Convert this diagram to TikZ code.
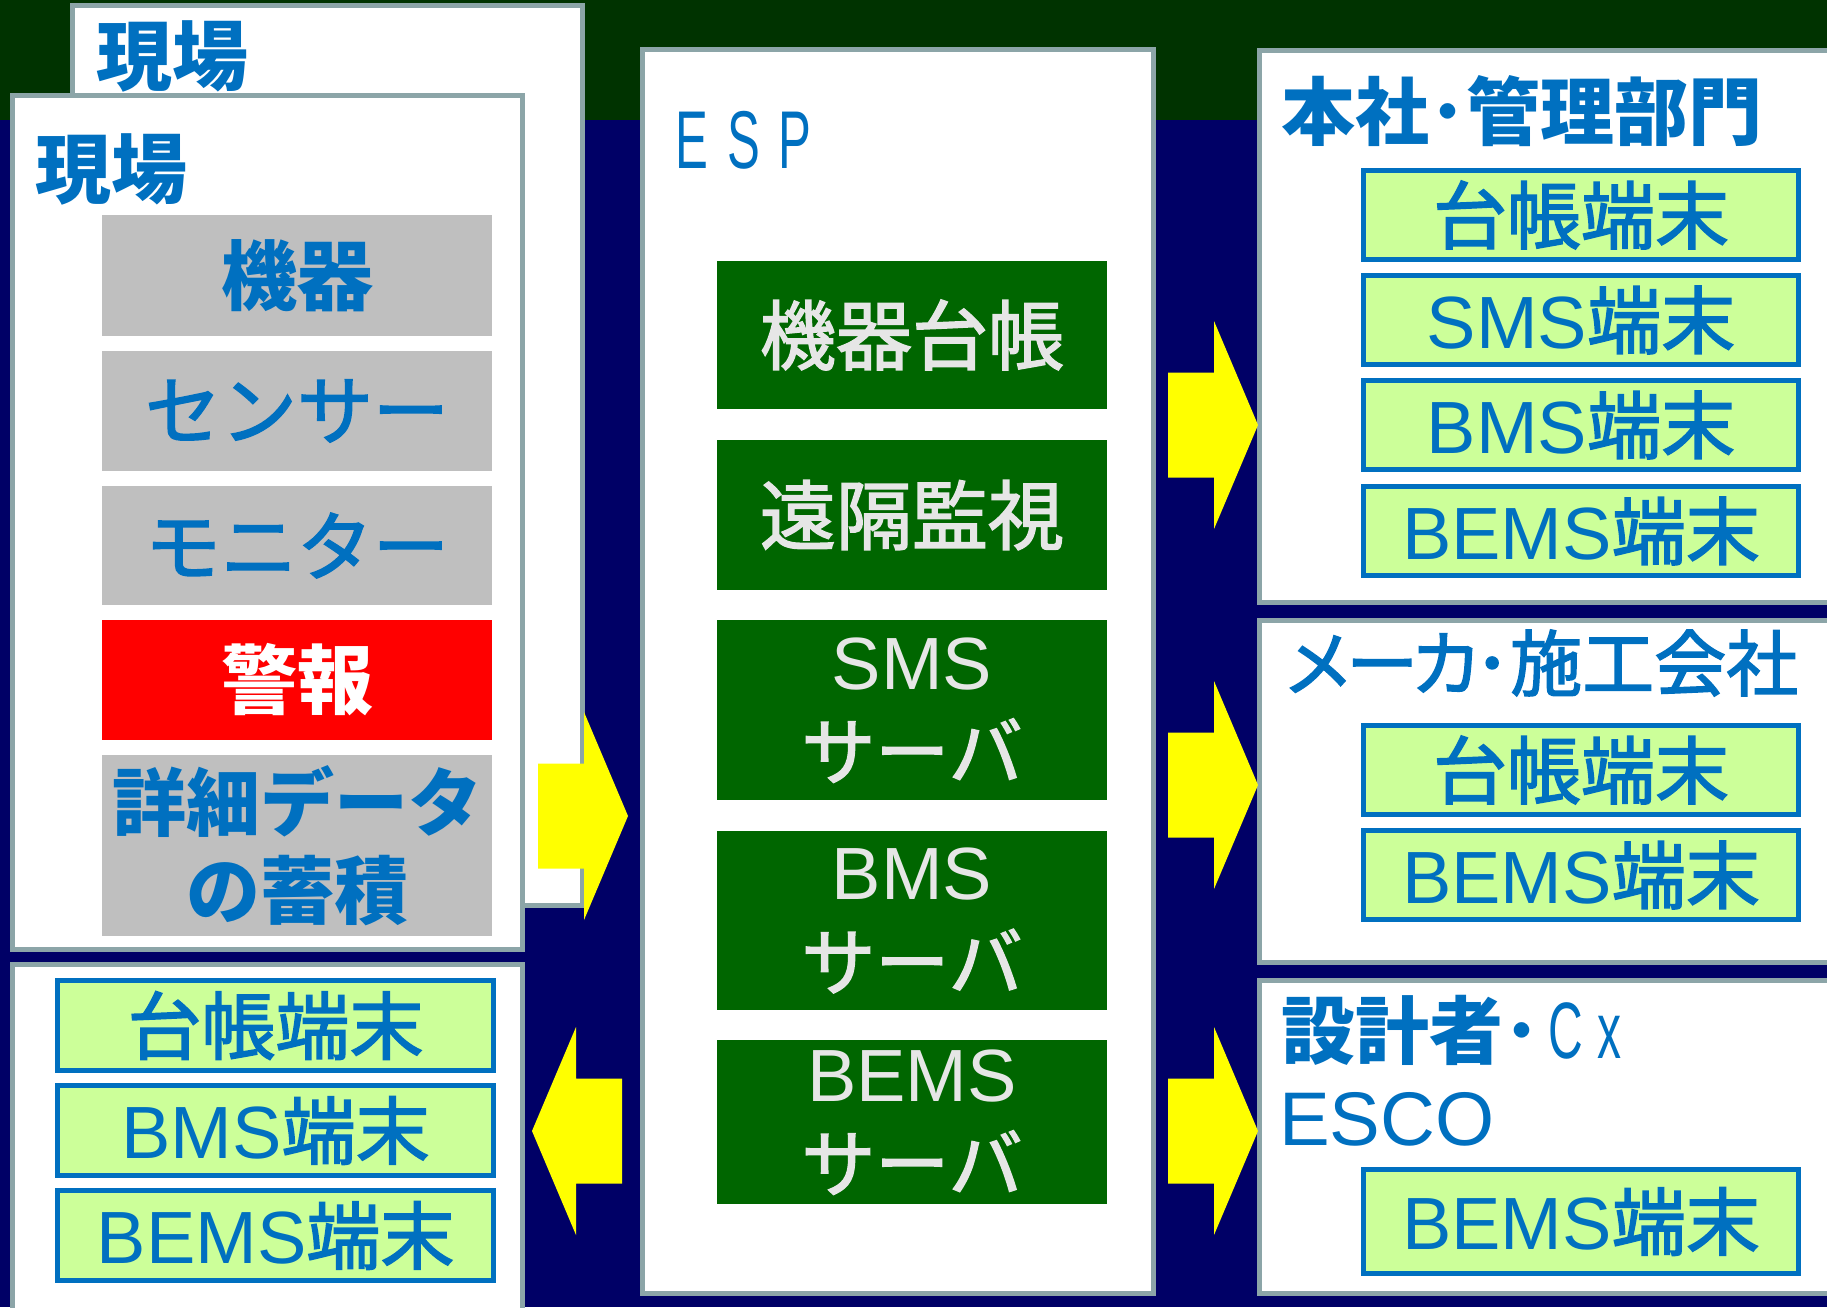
\documentclass[tikz,border=0pt]{standalone}
\usepackage{fontspec}
\usepackage{graphicx}
\setmainfont{Noto Sans CJK JP}
\newfontfamily\jpm[FakeBold=2]{Noto Sans CJK JP}
\newfontfamily\lat{Liberation Sans}
\newcommand\nar[1]{\scalebox{0.6}[1]{#1}}
\newcommand\myfs[2]{\fontsize{#1}{#2}\selectfont}
\definecolor{navyb}{HTML}{000066}
\definecolor{topg}{HTML}{003300}
\definecolor{bord}{HTML}{8CA5A8}
\definecolor{tblue}{HTML}{0070C0}
\definecolor{gbox}{HTML}{BFBFBF}
\definecolor{dgreen}{HTML}{006600}
\definecolor{lgreen}{HTML}{CCFF99}
\definecolor{ltext}{HTML}{E6E6E6}
\definecolor{yel}{HTML}{FFFF00}
\begin{document}
\begin{tikzpicture}[x=1pt,y=-1pt,
  panel/.style={draw=bord, line width=5pt, fill=white, inner sep=0pt, rectangle},
  gbx/.style={fill=gbox, inner sep=0pt, text=tblue, font=\myfs{76}{88}\bfseries, align=center, minimum width=390pt},
  dgbx/.style={fill=dgreen, inner sep=0pt, text=ltext, font=\jpm\myfs{74}{90}, align=center, minimum width=390pt},
  term/.style={fill=lgreen, draw=tblue, line width=5pt, inner sep=0pt, text=tblue, font=\jpm\myfs{74}{74}},
  ttl/.style={anchor=west, inner sep=0pt, text=tblue, font=\myfs{74}{88}\bfseries},
  yarrow/.pic={\fill[yel] (-90,-52.5) -- (-44,-52.5) -- (-44,-104) -- (0,0) -- (-44,104) -- (-44,52.5) -- (-90,52.5) -- cycle;}
]
\useasboundingbox (0,0) rectangle (1827,1307);
\clip (0,0) rectangle (1827,1307);
\fill[navyb] (0,0) rectangle (1827,1307);
\fill[topg] (0,0) rectangle (1827,120);

% Genba (back)
\node[panel, minimum width=510pt, minimum height=900pt] (back) at (327.5,455.5) {};
\node[ttl, font=\myfs{76}{76}\bfseries] (backT) at (96,56.5) {現場};
% Genba (front)
\node[panel, minimum width=510pt, minimum height=854pt] (front) at (267.5,522.5) {};
\node[ttl, font=\myfs{76}{76}\bfseries] (frontT) at (35,169) {現場};
\node[gbx, minimum height=121pt] (g1) at (297,275.5) {機器};
\node[gbx, minimum height=120pt, font=\jpm\myfs{76}{76}] (g2) at (297,411) {センサー};
\node[gbx, minimum height=119pt, font=\jpm\myfs{76}{76}] (g3) at (297,545.5) {モニター};
\node[gbx, minimum height=120pt, fill=red, text=white] (g4) at (297,680) {警報};
\node[gbx, minimum height=181pt, font=\myfs{74}{88}\bfseries] (g5) at (297,845.5) {詳細データ\\の蓄積};

% bottom-left terminals
\node[panel, minimum width=510pt, minimum height=365.5pt] (bl) at (267.5,1147.25) {};
\node[term, minimum width=436pt, minimum height=90pt] (blt1) at (275.5,1025.5) {台帳端末};
\node[term, minimum width=436pt, minimum height=90pt] (blt2) at (275.5,1130.5) {{\lat BMS}端末};
\node[term, minimum width=436pt, minimum height=90pt] (blt3) at (275.5,1235.5) {{\lat BEMS}端末};

% ESP
\node[panel, minimum width=511pt, minimum height=1244pt] (esp) at (898,671.5) {};
\node[anchor=west, inner sep=0pt, text=tblue, font=\lat\myfs{82}{82}] (espT) at (675,140) {\nar{E}\hspace{19pt}\nar{S}\hspace{19pt}\nar{P}};
\node[dgbx, minimum height=148pt, font=\jpm\myfs{76}{90}] (e1) at (912,335) {機器台帳};
\node[dgbx, minimum height=150pt, font=\jpm\myfs{76}{90}] (e2) at (912,515) {遠隔監視};
\node[dgbx, minimum height=180pt] (e3) at (912,710) {{\lat SMS}\\サーバ};
\node[dgbx, minimum height=179pt] (e4) at (912,920.5) {{\lat BMS}\\サーバ};
\node[dgbx, minimum height=164pt] (e5) at (912,1122) {{\lat BEMS}\\サーバ};

% right panel 1
\node[panel, minimum width=590.5pt, minimum height=552pt] (r1) at (1554.75,326.5) {};
\node[ttl] (r1T) at (1281,111) {本社･管理部門};
\node[term, minimum width=435pt, minimum height=89pt] (r1a) at (1581,215) {台帳端末};
\node[term, minimum width=435pt, minimum height=89pt] (r1b) at (1581,320) {{\lat SMS}端末};
\node[term, minimum width=435pt, minimum height=89pt] (r1c) at (1581,425) {{\lat BMS}端末};
\node[term, minimum width=435pt, minimum height=89pt] (r1d) at (1581,531) {{\lat BEMS}端末};

% right panel 2
\node[panel, minimum width=590.5pt, minimum height=342pt] (r2) at (1554.75,791.5) {};
\node[ttl, font=\jpm\myfs{72}{72}] (r2T) at (1282,663) {メ\kern-8ptー\kern-8ptカ\kern-8pt･施工会社};
\node[term, minimum width=435pt, minimum height=89pt] (r2a) at (1581,770) {台帳端末};
\node[term, minimum width=435pt, minimum height=89pt] (r2b) at (1581,875) {{\lat BEMS}端末};

% right panel 3
\node[panel, minimum width=590.5pt, minimum height=313pt] (r3) at (1554.75,1137) {};
\node[ttl] (r3T) at (1281,1030) {設計者･\hspace{8pt}{\lat\myfs{80}{80}\mdseries\nar{C}\hspace{15pt}\nar{x}}};
\node[ttl, font=\lat\myfs{76}{76}] (r3E) at (1279,1119) {ESCO};
\node[term, minimum width=435pt, minimum height=104pt] (r3a) at (1581,1221.5) {{\lat BEMS}端末};

% arrows
\coordinate (a0) at (628,816);
\coordinate (a1) at (1258,425);
\coordinate (a2) at (1258,785);
\coordinate (a3) at (1258,1131);
\coordinate (aL) at (532,1131);
\pic at (a0) {yarrow};
\pic at (a1) {yarrow};
\pic at (a2) {yarrow};
\pic at (a3) {yarrow};
\pic[xscale=-1] at (aL) {yarrow};
\end{tikzpicture}
\end{document}
